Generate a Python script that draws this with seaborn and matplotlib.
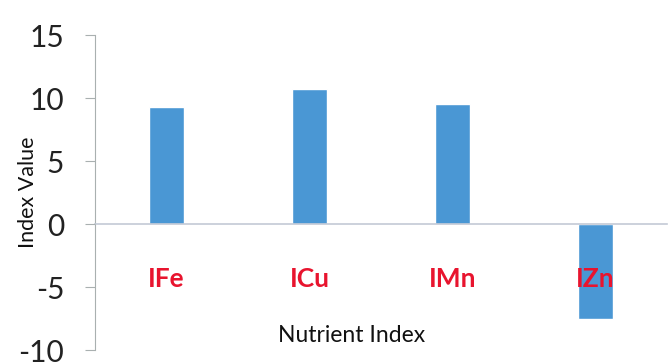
import matplotlib
matplotlib.use("Agg")
import matplotlib.pyplot as plt
import seaborn as sns
import pandas as pd

# Nutrient index values
categories = ["IFe", "ICu", "IMn", "IZn"]
values = [9.3, 10.7, 9.5, -7.5]
y_ticks = [-10, -5, 0, 5, 10, 15]

df = pd.DataFrame({"Nutrient": categories, "Index": values})

sns.set_style("white")
plt.rcParams["font.family"] = ["Lato", "DejaVu Sans"]

fig = plt.figure(figsize=(6.68, 3.62), dpi=100)
ax = fig.add_axes([0.1422, 0.0331, 0.8563, 0.8702])

sns.barplot(data=df, x="Nutrient", y="Index", order=categories,
            color="#4A97D4", saturation=1, width=0.25, ax=ax, zorder=2)

ax.set_xlim(-0.5, 3.5)
ax.set_ylim(-10, 15)
ax.set_axisbelow(False)
ax.set_yticks(y_ticks)
ax.set_yticklabels([str(t) for t in y_ticks], fontsize=21.5, color="#222222")

# axis styling
for s in ["top", "right"]:
    ax.spines[s].set_visible(False)
ax.spines["bottom"].set_position(("data", 0))
ax.spines["bottom"].set_color("#C3CAD6")
ax.spines["bottom"].set_linewidth(1.2)
ax.spines["left"].set_color("#A9B0B0")
ax.spines["left"].set_linewidth(0.8)
ax.tick_params(axis="y", direction="out", length=7.2, width=0.8,
               color="#A9B0B0", pad=15, left=True)
ax.tick_params(axis="x", length=0, pad=31)

for lbl in ax.get_xticklabels():
    lbl.set_color("#E8142E")
    lbl.set_fontweight("bold")
    lbl.set_fontsize(19)

ax.set_ylabel("Index Value", fontsize=15.5, color="#111111")
ax.yaxis.set_label_coords(-0.100, 0.5)
ax.set_xlabel("Nutrient Index", fontsize=16.5, color="#111111")
ax.xaxis.set_label_coords(0.449, 0.046)
ax.xaxis.label.set_va("center")

fig.savefig("out.png", dpi=100, facecolor="white")
